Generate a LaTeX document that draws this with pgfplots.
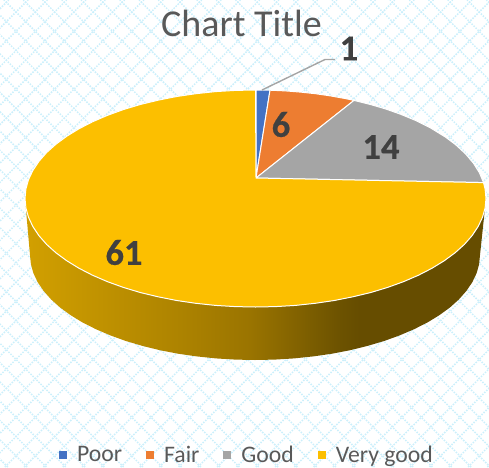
\documentclass[border=0pt]{standalone}
\usepackage{fontspec}
\setmainfont{Carlito}[BoldFeatures={FakeBold=0.5}]
\usepackage{pgfplots}
\pgfplotsset{compat=1.18}
\definecolor{poorc}{HTML}{4472C4}
\definecolor{fairc}{HTML}{ED7D31}
\definecolor{goodc}{HTML}{A5A5A5}
\definecolor{vgoodc}{HTML}{FCBF00}
\definecolor{lattice}{HTML}{CBEFFB}
\definecolor{titlec}{HTML}{595959}
\definecolor{labelc}{HTML}{404040}
\definecolor{sidea}{HTML}{D2A000}
\definecolor{sideb}{HTML}{AD8300}
\definecolor{sidec}{HTML}{9A7400}
\definecolor{sided}{HTML}{6C5200}
\definecolor{sidee}{HTML}{664D00}
% side of the pie: 100bp shading, the path's box sits between 25bp and 75bp
\pgfdeclarehorizontalshading{pieside}{100bp}{
  color(0bp)=(sidea);
  color(25bp)=(sidea);
  color(41.8bp)=(sideb);
  color(49.4bp)=(sidec);
  color(59.2bp)=(sided);
  color(61.3bp)=(sidee);
  color(100bp)=(sidee)}
\begin{document}
\begin{tikzpicture}
  % lattice behind the chart
  \begin{scope}
    \clip (0,0) rectangle (489pt,467pt);
    \foreach \i in {-26,...,26} {
      \draw[lattice, line width=1.5pt, dash pattern=on 1.5pt off 1.33pt] (\i*19.3pt+4.9pt,0) -- ++(467pt,467pt);
      \draw[lattice, line width=1.5pt, dash pattern=on 1.5pt off 1.33pt] (\i*19.3pt+490.3pt,0) -- ++(-467pt,467pt);
    }
  \end{scope}
  \begin{axis}[
    scale only axis, width=489pt, height=467pt,
    xmin=0, xmax=489, ymin=0, ymax=467, y dir=reverse,
    hide axis,
    legend columns=4,
    legend image code/.code={\path[#1,draw=none] (0pt,-4pt) rectangle (8pt,4pt);},
    legend style={at={(axis cs:247,455)}, anchor=center, draw=none, fill=none,
      font=\fontsize{23.7}{24}\selectfont\color{titlec},
      /tikz/every even column/.append style={column sep=22pt},
      /tikz/every odd column/.append style={column sep=8pt}},
  ]
    % side wall
    \addplot[forget plot, draw=none, shading=pieside] coordinates {
      (486,198.5)(480,255)(479.1,264.2)(476.6,273.2)(472.3,282.2)(466.4,290.9)(458.9,299.4)(449.9,307.5)
      (439.3,315.2)(427.4,322.5)(414.1,329.2)(399.6,335.4)(384.1,341)(367.5,345.9)(350.1,350.2)(332,353.7)
      (313.2,356.4)(294.1,358.4)(274.6,359.6)(255,360)(235.4,359.6)(215.9,358.4)(196.8,356.4)(178,353.7)
      (159.9,350.2)(142.5,345.9)(125.9,341)(110.4,335.4)(95.9,329.2)(82.6,322.5)(70.7,315.2)(60.1,307.5)
      (51.1,299.4)(43.6,290.9)(37.7,282.2)(33.4,273.2)(30.9,264.2)(30,255)(25,198.5)
    } --cycle;
    % Poor = 1
    \addplot[fill=poorc, draw=white, line width=1pt] coordinates {
      (256,178)(256,90)(263,90.05)(270,90.2)
    } --cycle;
    % Fair = 6
    \addplot[fill=fairc, draw=white, line width=1pt] coordinates {
      (256,178)(270,90.2)(285.5,90.9)(300.5,92.1)(315.5,93.7)(330.5,95.9)(345.5,98.6)(354,100.4)
    } --cycle;
    % Good = 14
    \addplot[fill=goodc, draw=white, line width=1pt] coordinates {
      (256,178)(354,100.4)(370.5,104.5)(385.5,108.9)(400.5,114.2)(415.5,120.4)(430.5,127.9)
      (445.5,137.1)(455.5,144.6)(465.5,153.8)(473.5,163.3)(479.5,172.9)(483.5,182.6)
    } --cycle;
    % Very good = 61
    \addplot[fill=vgoodc, draw=white, line width=1pt] coordinates {
      (256,178)(483.5,182.6)(485.1,189)(486,198.5)(485.1,208)(482.5,217.3)(478.1,226.6)(472.1,235.6)
      (464.4,244.4)(455.1,252.75)(444.3,260.7)(432.1,268.2)(418.5,275.2)(403.7,281.6)(387.7,287.4)
      (370.75,292.5)(352.9,296.8)(334.3,300.5)(315.2,303.3)(295.5,305.4)(275.6,306.6)(255.5,307)
      (235.4,306.6)(215.5,305.4)(195.8,303.3)(176.7,300.5)(158.1,296.8)(140.25,292.5)(123.3,287.4)
      (107.3,281.6)(92.5,275.2)(78.9,268.2)(66.7,260.7)(55.9,252.75)(46.6,244.4)(38.9,235.6)
      (32.9,226.6)(28.5,217.3)(25.9,208)(25,198.5)(25.9,189)(28.5,179.7)(32.9,170.4)(38.9,161.4)
      (46.6,152.6)(55.9,144.25)(66.7,136.3)(78.9,128.8)(92.5,121.8)(107.3,115.4)(123.3,109.6)
      (140.25,104.5)(158.1,100.2)(176.7,96.5)(195.8,93.7)(215.5,91.6)(235.4,90.4)(255.5,90)
    } --cycle;
    % leader line of the label 1
    \addplot[forget plot, goodc, line width=1.4pt] coordinates {(262,90)(325,59.5)(335,59.5)};
    \legend{Poor,Fair,Good,Very good}
    \node[text=titlec, font=\fontsize{38}{40}\selectfont] at (axis cs:241.5,23) {Chart Title};
    \node[text=labelc, font=\fontsize{36.5}{37}\selectfont\bfseries] at (axis cs:349,48.5) {1};
    \node[text=labelc, font=\fontsize{36.5}{37}\selectfont\bfseries] at (axis cs:281,124.5) {6};
    \node[text=labelc, font=\fontsize{36.5}{37}\selectfont\bfseries] at (axis cs:381,147) {14};
    \node[text=labelc, font=\fontsize{36.5}{37}\selectfont\bfseries] at (axis cs:124,252.5) {61};
  \end{axis}
\end{tikzpicture}
\end{document}
